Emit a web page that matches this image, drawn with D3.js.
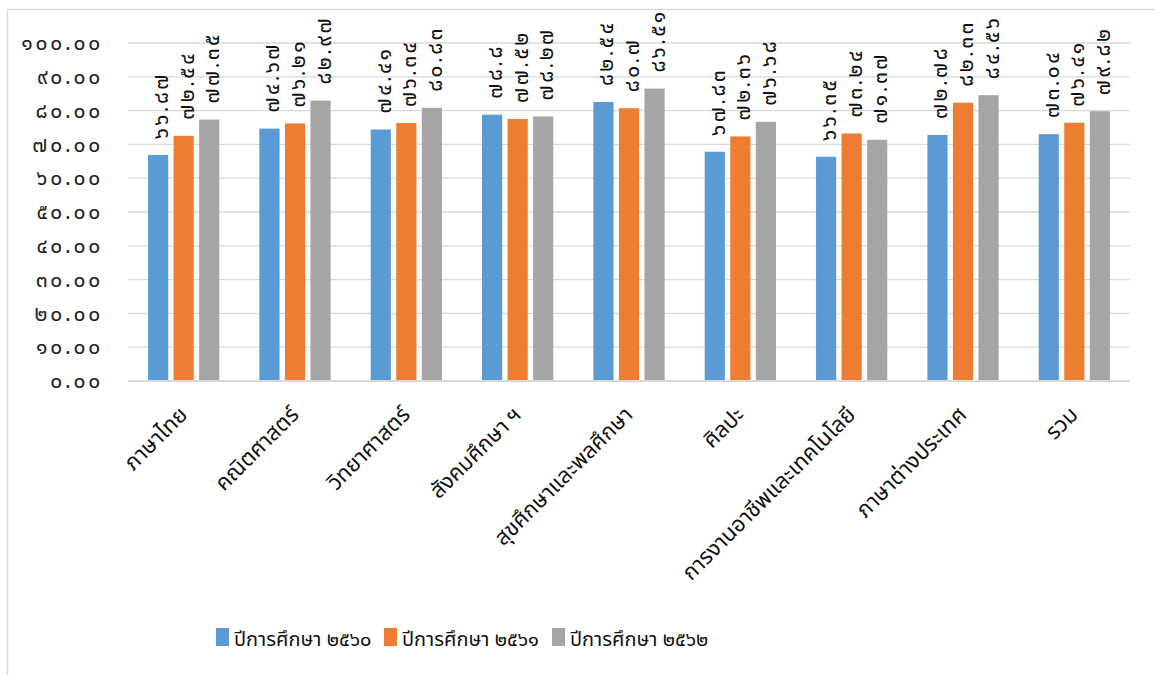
<!DOCTYPE html>
<html>
<head>
<meta charset="utf-8">
<script src="https://cdn.jsdelivr.net/npm/d3@7"></script>
<style>
  html, body { margin: 0; padding: 0; background: #fff; }
  svg { display: block; }
  text { font-family: "Noto Sans Thai", "Noto Sans", "DejaVu Sans", sans-serif; }
</style>
</head>
<body>
<svg id="chart" width="1155" height="675"></svg>
<script>
const categories = ["ภาษาไทย", "คณิตศาสตร์", "วิทยาศาสตร์", "สังคมศึกษา ฯ", "สุขศึกษาและพลศึกษา", "ศิลปะ", "การงานอาชีพและเทคโนโลยี", "ภาษาต่างประเทศ", "รวม"];
const seriesNames = ["ปีการศึกษา ๒๕๖๐", "ปีการศึกษา ๒๕๖๑", "ปีการศึกษา ๒๕๖๒"];
const values2560 = [66.87, 74.67, 74.41, 78.8, 82.54, 67.83, 66.35, 72.78, 73.04];
const values2561 = [72.54, 76.21, 76.34, 77.52, 80.7, 72.36, 73.24, 82.33, 76.41];
const values2562 = [77.35, 82.97, 80.83, 78.27, 86.51, 76.68, 71.37, 84.56, 79.82];
const yTicks = [0, 10, 20, 30, 40, 50, 60, 70, 80, 90, 100];
const colors = ["#5b9bd5", "#ed7d31", "#a5a5a5"];

const seriesValues = [values2560, values2561, values2562];
const thaiDigits = "๐๑๒๓๔๕๖๗๘๙";
const toThai = s => String(s).replace(/[0-9]/g, d => thaiDigits[+d]);

const svg = d3.select("#chart");

// outer chart border
svg.append("rect").attr("x", 7.5).attr("y", 9.5).attr("width", 1160).attr("height", 680)
  .attr("fill", "none").attr("stroke", "#d9d9d9").attr("stroke-width", 1.5);

const plotLeft = 128, plotRight = 1130, plotTop = 43, plotBottom = 381;
const y = d3.scaleLinear().domain([0, 100]).range([plotBottom, plotTop]);
const x0 = d3.scaleBand().domain(categories).range([plotLeft, plotRight]).paddingInner(0.36).paddingOuter(0.18);
const x1 = d3.scaleBand().domain([0, 1, 2]).range([0, x0.bandwidth()]).paddingInner(0.21).paddingOuter(0);

// gridlines
svg.append("g").selectAll("line").data(yTicks.filter(t => t > 0)).join("line")
  .attr("x1", plotLeft).attr("x2", plotRight)
  .attr("y1", d => y(d)).attr("y2", d => y(d))
  .attr("stroke", "#d9d9d9").attr("stroke-width", 1.3);

// y axis labels
const yAxis = d3.axisLeft(y).tickValues(yTicks).tickSize(0).tickPadding(0)
  .tickFormat(d => toThai(d.toFixed(2)));
const yg = svg.append("g").attr("transform", `translate(${103},0)`).call(yAxis);
yg.select(".domain").remove();
yg.selectAll("text").attr("font-size", 21).attr("fill", "#222")
  .attr("letter-spacing", "2.8px");

// bars
const groups = svg.append("g").selectAll("g").data(categories).join("g")
  .attr("transform", d => `translate(${x0(d)},0)`);

groups.selectAll("rect").data((c, i) => seriesValues.map((vals, s) => ({ s, v: vals[i] })))
  .join("rect")
  .attr("x", d => x1(d.s))
  .attr("width", x1.bandwidth())
  .attr("y", d => y(d.v))
  .attr("height", d => y(0) - y(d.v))
  .attr("fill", d => colors[d.s]);

// data labels (rotated)
groups.selectAll("text.lbl").data((c, i) => seriesValues.map((vals, s) => ({ s, v: vals[i] })))
  .join("text")
  .attr("class", "lbl")
  .attr("transform", d => `translate(${x1(d.s) + x1.bandwidth() / 2 + 10},${y(d.v) - 16}) rotate(-90)`)
  .attr("text-anchor", "start")
  .attr("font-size", 21)
  .attr("letter-spacing", "2.5px")
  .attr("fill", "#111")
  .text(d => toThai(d.v));

// x axis baseline
svg.append("line").attr("x1", plotLeft).attr("x2", plotRight).attr("y1", plotBottom).attr("y2", plotBottom)
  .attr("stroke", "#d9d9d9").attr("stroke-width", 2);

// category labels
const xAxis = d3.axisBottom(x0).tickSize(0).tickPadding(0);
const xg = svg.append("g").attr("transform", `translate(0,${plotBottom})`).call(xAxis);
xg.select(".domain").remove();
xg.selectAll("text")
  .attr("font-size", 22).attr("fill", "#111")
  .attr("text-anchor", "end")
  .attr("dy", 0)
  .attr("transform", "translate(5,35) rotate(-45)");

// legend
const legendX = [216, 384, 552];
const leg = svg.append("g").selectAll("g").data(seriesNames).join("g")
  .attr("transform", (d, i) => `translate(${legendX[i]},628)`);
leg.append("rect").attr("width", 13).attr("height", 18).attr("fill", (d, i) => colors[i]);
leg.append("text").attr("x", 18).attr("y", 18).attr("font-size", 20).attr("fill", "#111").text(d => d);
</script>
</body>
</html>
